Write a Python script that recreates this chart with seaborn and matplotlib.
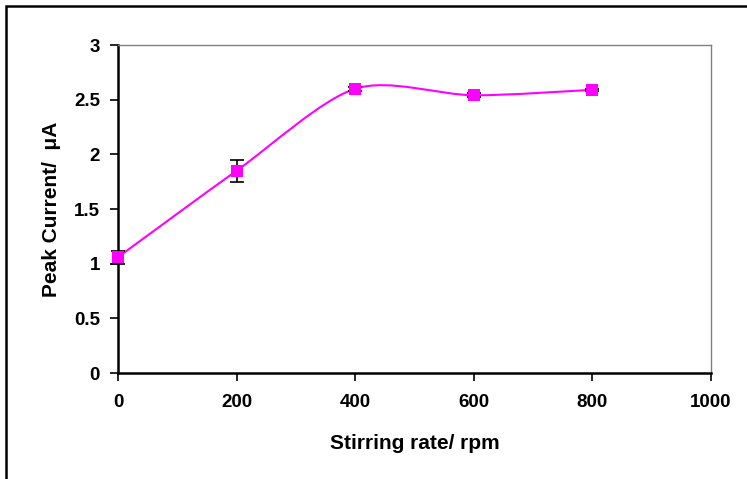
import seaborn as sns
import numpy as np
import pandas as pd
import matplotlib.pyplot as plt
from matplotlib.path import Path
from matplotlib.patches import PathPatch, Rectangle

# data
stirring_rate = [0, 200, 400, 600, 800]
peak_current = [1.06, 1.85, 2.60, 2.54, 2.59]
current_err = [0.06, 0.10, 0.02, 0.02, 0.01]

df = pd.DataFrame({'rate': stirring_rate, 'current': peak_current, 'err': current_err})

sns.set_style('white')
plt.rcParams['font.family'] = ['Liberation Sans', 'DejaVu Sans']
plt.rcParams['text.color'] = 'black'
plt.rcParams['axes.labelcolor'] = 'black'
plt.rcParams['xtick.color'] = 'black'
plt.rcParams['ytick.color'] = 'black'

fig = plt.figure(figsize=(7.47, 4.79), dpi=100)
ax = fig.add_axes([118/747, 106/479, 593/747, 328/479])

# smoothed line (Excel-style bezier through the points)
pts = np.column_stack([df['rate'], df['current']]).astype(float)
ext = np.vstack([pts[0], pts, pts[-1]])
verts = [tuple(pts[0])]
codes = [Path.MOVETO]
for i in range(1, len(ext) - 2):
    p0, p1, p2, p3 = ext[i-1], ext[i], ext[i+1], ext[i+2]
    c1 = p1 + (p2 - p0) / 7
    c2 = p2 - (p3 - p1) / 7
    verts += [tuple(c1), tuple(c2), tuple(p2)]
    codes += [Path.CURVE4] * 3
ax.add_patch(PathPatch(Path(verts, codes), fill=False, edgecolor='#FF00FF', lw=1.5, zorder=2))

ax.errorbar(df['rate'], df['current'], yerr=df['err'], fmt='none', ecolor='black',
            elinewidth=1.2, capsize=5, capthick=1.2, zorder=3, clip_on=False)
sns.scatterplot(data=df, x='rate', y='current', marker='s', s=85, color='#FF00FF',
                edgecolor='#FF00FF', linewidth=0, ax=ax, zorder=4, clip_on=False)

ax.set_xlim(0, 1000)
ax.set_ylim(0, 3)
ax.set_xticks(range(0, 1001, 200))
ax.set_yticks([0, 0.5, 1, 1.5, 2, 2.5, 3])
ax.set_yticklabels(['0', '0.5', '1', '1.5', '2', '2.5', '3'])
ax.tick_params(axis='both', direction='out', length=6, width=1.2, labelsize=13.5,
               color='black', labelcolor='black', left=True, bottom=True, pad=7)
ax.tick_params(axis='x', pad=9)
for lab in ax.get_xticklabels() + ax.get_yticklabels():
    lab.set_fontweight('bold')

for s in ['left', 'bottom']:
    ax.spines[s].set_color('black')
    ax.spines[s].set_linewidth(1.8)
for s in ['top', 'right']:
    ax.spines[s].set_color('#808080')
    ax.spines[s].set_linewidth(1.0)

ax.set_xlabel('Stirring rate/ rpm', fontsize=15, fontweight='bold', labelpad=17)
ax.set_ylabel('Peak Current/  \u03bcA', fontsize=15, fontweight='bold', labelpad=9)

# outer chart border
fig.patches.append(Rectangle((6/747, -0.05), 1.05, (479-6)/479 + 0.05, transform=fig.transFigure,
                             fill=False, edgecolor='black', lw=1.8))

plt.savefig('out.png', dpi=100)
